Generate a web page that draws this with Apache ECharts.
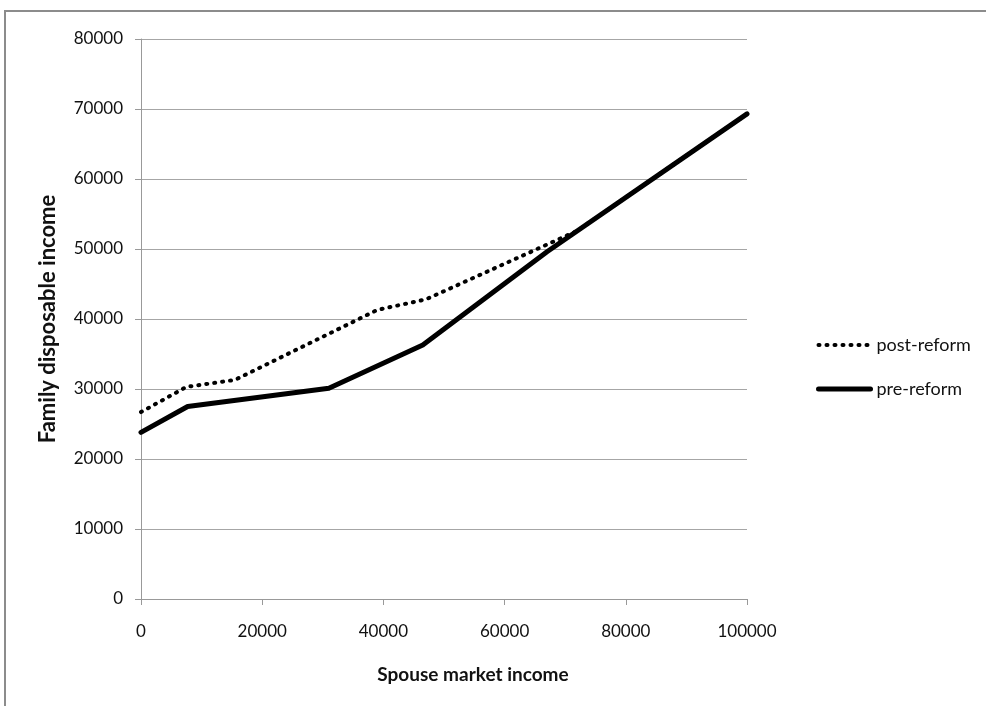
<!DOCTYPE html>
<html>
<head>
<meta charset="utf-8">
<script src="https://cdn.jsdelivr.net/npm/echarts@6/dist/echarts.min.js"></script>
<style>
html,body{margin:0;padding:0;background:#fff;}
#chart{width:986px;height:706px;}
</style>
</head>
<body>
<div id="chart"></div>
<script>
// Data
var xTitle = 'Spouse market income';
var yTitle = 'Family disposable income';
var seriesNames = ['post-reform', 'pre-reform'];
var postX = [0, 7500, 15500, 39000, 47000, 72000, 100000];
var postY = [26700, 30300, 31300, 41300, 42800, 52600, 69300];
var preX = [0, 7700, 31000, 46500, 67000, 100000];
var preY = [23800, 27500, 30100, 36300, 49600, 69300];

function pairs(xs, ys) { return xs.map(function (x, i) { return [x, ys[i]]; }); }

var dotStyle = {color: '#000', width: 4, type: [1, 7], cap: 'round'};
var solidStyle = {color: '#000', width: 5, cap: 'round', join: 'round'};

var chart = echarts.init(document.getElementById('chart'), null, {renderer: 'canvas'});
var font = 'Lato, "Open Sans", sans-serif';
chart.setOption({
  animation: false,
  backgroundColor: '#fff',
  graphic: [{
    type: 'rect', shape: {x: 5, y: 11, width: 1100, height: 800},
    style: {fill: 'none', stroke: '#8c8c8c', lineWidth: 2}, silent: true, z: -1
  }],
  grid: {left: 141, right: 239, top: 39, bottom: 107},
  legend: {
    orient: 'vertical', left: 811, top: 331, itemWidth: 52, itemHeight: 20, itemGap: 26,
    itemStyle: {opacity: 0},
    textStyle: {fontFamily: font, fontSize: 18, color: '#111', padding: [0, 0, 0, 1]},
    data: [
      {name: seriesNames[0], lineStyle: {width: 4, type: [1, 7], cap: 'round', color: '#000'}},
      {name: seriesNames[1], lineStyle: {width: 5, cap: 'round', color: '#000'}}
    ]
  },
  xAxis: {
    type: 'value', min: 0, max: 100000, interval: 20000,
    name: xTitle, nameLocation: 'middle', nameGap: 66,
    nameTextStyle: {fontFamily: font, fontSize: 19, fontWeight: 'bold', color: '#111', padding: [0, 0, 0, 58]},
    axisLine: {show: true, lineStyle: {color: '#999', width: 1}},
    axisTick: {show: true, inside: false, length: 6, lineStyle: {color: '#999'}},
    axisLabel: {fontFamily: font, fontSize: 17, color: '#111', margin: 24,
      formatter: function (v) { return String(v); }},
    splitLine: {show: false}
  },
  yAxis: {
    type: 'value', min: 0, max: 80000, interval: 10000,
    name: yTitle, nameLocation: 'middle', nameGap: 82, nameRotate: 90,
    nameTextStyle: {fontFamily: font, fontSize: 22, fontWeight: 'bold', color: '#111'},
    axisLine: {show: true, lineStyle: {color: '#999', width: 1}},
    axisTick: {show: true, inside: false, length: 6, lineStyle: {color: '#999'}},
    axisLabel: {fontFamily: font, fontSize: 17, color: '#111', margin: 18,
      formatter: function (v) { return String(v); }},
    splitLine: {show: true, lineStyle: {color: '#a6a6a6', width: 1}}
  },
  series: [{
    name: seriesNames[0], type: 'line', data: pairs(postX, postY),
    showSymbol: false, symbol: 'none', z: 3,
    lineStyle: dotStyle,
    itemStyle: {color: '#000'}
  }, {
    name: seriesNames[1], type: 'line', data: pairs(preX, preY),
    showSymbol: false, symbol: 'none', z: 2,
    lineStyle: solidStyle,
    itemStyle: {color: '#000'}
  }]
});
</script>
</body>
</html>
